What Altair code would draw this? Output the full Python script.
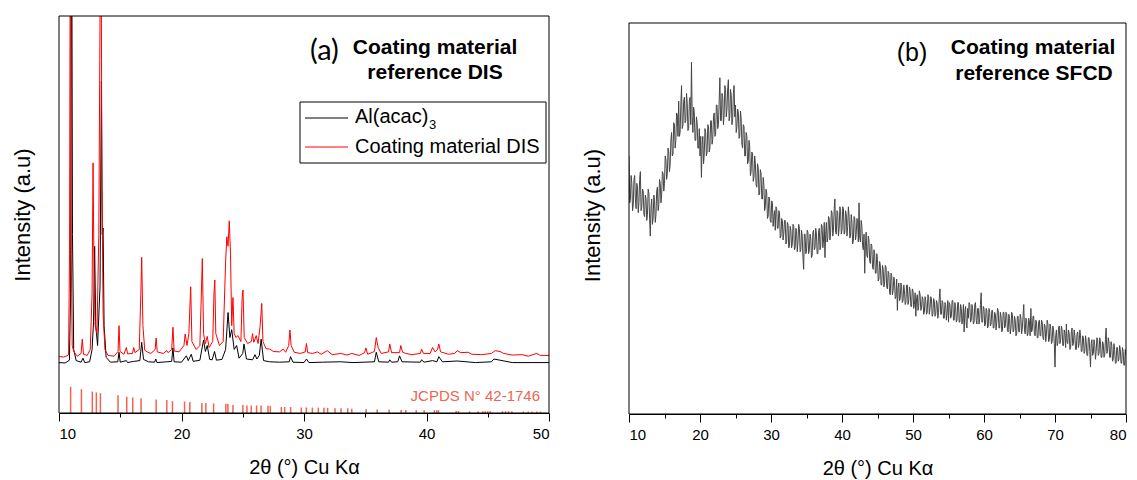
import altair as alt
import pandas as pd

# ---------------- Panel (a) data (2theta, intensity a.u.) ----------------
black_pts = [
    (10.0, 12.7), (10.5, 12.6), (10.85, 13.3), (10.95, 30), (11.03, 140), (11.1, 45),
    (11.2, 16), (11.4, 13.2), (11.8, 12.8), (11.96, 13.8), (12.1, 12.7), (12.5, 12.9),
    (12.7, 16), (12.82, 23), (12.91, 42), (13.0, 22), (13.15, 17), (13.35, 32),
    (13.46, 83.6), (13.53, 45), (13.6, 46.6), (13.68, 22), (13.85, 14), (14.2, 12.8),
    (14.8, 12.9), (14.9, 15.3), (15.0, 12.8), (15.5, 13.2), (15.6, 12.7), (16.1, 13.0),
    (16.6, 13.2), (16.75, 17.8), (16.9, 13.5), (17.3, 12.9), (17.8, 12.8), (17.9, 13.6),
    (18.0, 12.7), (18.8, 12.9), (19.2, 13.0), (19.3, 16.4), (19.4, 12.9), (20.0, 12.8),
    (20.4, 14.4), (20.55, 13.2), (20.8, 14.8), (20.95, 13.0), (21.5, 13.3), (21.8, 18.4),
    (21.95, 15.5), (22.1, 17.0), (22.3, 13.5), (22.5, 13.4), (22.7, 15.5), (22.85, 13.3),
    (23.3, 13.5), (23.6, 16.0), (23.8, 25.3), (23.95, 19.0), (24.1, 21.0), (24.3, 16.0),
    (24.5, 17.0), (24.7, 13.8), (25.0, 15.0), (25.1, 17.4), (25.3, 13.6), (25.8, 13.4),
    (26.0, 14.7), (26.15, 13.6), (26.35, 14.5), (26.5, 18.6), (26.7, 13.2), (27.2, 12.9),
    (28.0, 12.8), (28.8, 12.9), (28.9, 14.2), (29.1, 12.8), (30.0, 12.7), (30.2, 13.6),
    (30.4, 12.7), (31.5, 12.8), (33.0, 12.9), (34.0, 12.7), (35.75, 12.9), (35.9, 15.3),
    (36.1, 12.9), (36.9, 12.8), (37.0, 13.4), (37.15, 12.8), (37.65, 12.9), (37.8, 14.4),
    (38.0, 12.9), (39.5, 12.8), (39.6, 13.4), (39.8, 12.8), (40.5, 13.2), (40.85, 12.9),
    (41.0, 14.2), (41.3, 12.9), (42.5, 13.1), (44.0, 12.7), (45.3, 12.9), (45.5, 13.6),
    (46.0, 13.3), (47.0, 12.7), (50.0, 12.7),
]
black_x = [p[0] for p in black_pts]
black_y = [p[1] for p in black_pts]

red_pts = [
    (10.0, 14.2), (10.4, 14.1), (10.78, 14.6), (10.86, 40), (10.93, 140), (11.0, 40),
    (11.08, 17), (11.2, 15.5), (11.5, 14.3), (11.8, 15), (11.9, 18.6), (12.0, 14.8),
    (12.3, 14.5), (12.55, 16), (12.7, 30), (12.78, 63), (12.86, 35), (12.95, 22),
    (13.1, 20), (13.25, 45), (13.33, 89), (13.42, 140), (13.5, 60), (13.6, 25),
    (13.75, 16), (14.0, 14.5), (14.5, 14.3), (14.82, 15.5), (14.9, 22), (14.98, 15.5),
    (15.3, 14.8), (15.5, 16.5), (15.6, 14.9), (16.0, 15), (16.1, 16.5), (16.2, 15.2),
    (16.55, 16), (16.68, 30), (16.75, 39.2), (16.85, 22), (17.0, 15.8), (17.2, 15.4),
    (17.5, 15.0), (17.85, 16), (17.93, 18.9), (18.02, 15.4), (18.5, 15), (18.8, 15.7),
    (18.9, 15.2), (19.2, 16), (19.3, 21.6), (19.4, 15.6), (19.8, 15.4), (20.2, 17),
    (20.3, 19.9), (20.45, 17), (20.6, 20), (20.75, 31.8), (20.85, 18), (21.2, 16),
    (21.5, 17), (21.62, 30), (21.7, 38.9), (21.8, 20), (21.95, 17.5), (22.1, 19.3),
    (22.25, 16.5), (22.55, 18), (22.65, 30), (22.72, 33.5), (22.8, 20), (23.1, 17),
    (23.4, 18), (23.6, 38), (23.7, 44.4), (23.8, 42), (23.9, 48.4), (24.0, 40),
    (24.1, 22), (24.2, 29.1), (24.3, 20), (24.45, 19), (24.6, 19.5), (24.85, 18),
    (24.95, 29), (25.02, 31), (25.12, 19), (25.4, 17.5), (25.7, 18), (25.8, 20),
    (25.9, 17.8), (26.1, 19.5), (26.25, 17.5), (26.42, 22), (26.55, 27.6), (26.65, 18),
    (26.9, 16.2), (27.2, 16.1), (27.5, 15.5), (28.0, 15.4), (28.3, 16.1), (28.5, 15.3),
    (28.75, 17), (28.85, 20.9), (28.95, 17), (29.2, 15.3), (29.7, 15.0), (30.1, 15.4),
    (30.2, 17.5), (30.3, 15.2), (30.7, 15), (31.1, 15.4), (31.4, 14.8), (31.9, 15.7),
    (32.3, 14.7), (33.0, 15), (33.5, 14.6), (33.9, 15.0), (34.5, 14.5), (34.95, 15.2),
    (35.05, 16.4), (35.2, 14.8), (35.75, 15.5), (35.9, 19), (36.05, 16.5), (36.3, 15),
    (36.9, 15.4), (37.0, 17.4), (37.15, 15.2), (37.8, 15.2), (37.9, 17), (38.05, 15.3),
    (38.3, 15), (38.8, 14.7), (39.5, 15), (39.6, 16.1), (39.75, 15), (40.3, 15),
    (40.5, 16.5), (40.7, 15.4), (40.9, 16), (41.0, 17.4), (41.15, 15.4), (41.8, 14.8),
    (42.3, 15), (42.5, 15.7), (42.8, 15.2), (43.4, 15.3), (43.7, 14.8), (44.5, 14.7),
    (45.3, 15), (45.6, 15.7), (46.0, 15.5), (46.3, 15), (47.0, 14.6), (47.8, 14.7),
    (48.3, 14.3), (49.0, 15), (49.3, 14.5), (50.0, 14.5),
]
red_x = [p[0] for p in red_pts]
red_y = [p[1] for p in red_pts]

# JCPDS N° 42-1746 reference lines (position, relative height)
stick_x = [10.95, 11.83, 12.72, 13.05, 13.38, 14.82, 15.53, 16.02, 16.70, 17.93,
           18.80, 19.26, 20.25, 20.68, 21.66, 21.99, 22.62, 23.62, 23.79, 24.20,
           25.01, 25.34, 25.69, 26.13, 26.49, 27.06, 27.25, 28.15, 28.42, 28.91,
           29.78, 30.19, 30.68, 31.17, 31.63, 31.93, 32.53, 33.02, 33.57, 33.90,
           35.07, 35.97, 36.95, 37.93, 38.31, 39.16, 39.81, 40.65, 40.84, 40.98,
           42.42, 42.61, 43.51, 44.20, 44.6, 44.8, 45.0, 45.2, 46.2, 46.45,
           46.7, 46.97, 47.9, 48.3, 48.6, 49.0, 49.3]
stick_h = [6.6, 6.0, 5.4, 5.2, 5.0, 4.5, 4.1, 3.9, 3.7, 3.4,
           3.3, 3.0, 2.9, 2.8, 2.5, 2.5, 2.4, 2.3, 2.3, 2.0,
           2.0, 1.9, 1.9, 1.9, 1.9, 1.8, 1.8, 1.5, 1.5, 1.5,
           1.4, 1.4, 1.35, 1.35, 1.3, 1.3, 1.2, 1.2, 1.2, 1.1,
           1.0, 0.9, 0.85, 0.75, 0.75, 0.7, 0.7, 0.7, 0.7, 0.7,
           0.5, 0.5, 0.45, 0.45, 0.45, 0.45, 0.45, 0.45, 0.45, 0.45,
           0.45, 0.45, 0.35, 0.35, 0.35, 0.35, 0.35]

# ---------------- Panel (b) data: one row per degree, 0.1 deg steps ----------------
b_start = 10.0
b_step = 0.1
b_rows = [
    [66, 54, 55, 61, 59, 52, 53.5, 60, 61, 55],                 # 10
    [52.5, 59, 58, 51.5, 54, 60, 62, 52, 53, 57.5],             # 11
    [57, 51, 50.5, 56, 55, 49.5, 51, 57.5, 56.5, 50],           # 12
    [45.5, 53, 55, 48.5, 50, 56, 54.5, 49, 51, 57],             # 13
    [58, 52, 53.5, 60, 59, 54, 56, 62, 61.5, 57],               # 14
    [59, 66, 65, 60, 61.5, 68, 67, 62, 64, 70],                 # 15
    [72, 66, 66.5, 74.5, 74, 68, 70, 77, 76.5, 71],             # 16
    [80, 71, 72, 79, 84, 73, 74, 80, 81, 74.5],                 # 17
    [75, 82, 79.5, 72.5, 73, 80, 81, 74, 90, 76],               # 18
    [72, 78.5, 77, 70, 70, 76, 74.5, 68, 68, 73],               # 19
    [66, 71, 60.5, 69, 71, 64, 66.5, 73, 72, 66],               # 20
    [67, 74, 73.5, 67, 68, 75, 75, 69, 70.5, 76],               # 21
    [77, 71, 71.5, 79, 79, 73, 74, 80, 86, 75],                 # 22
    [75, 82, 81, 74, 76.5, 84, 83, 76, 78, 83.5],               # 23
    [85.5, 75, 76, 83, 81.5, 74, 75.5, 82, 84, 76],             # 24
    [79, 72, 73.5, 78, 77, 70.5, 71, 77.5, 75.5, 69],           # 25
    [68, 74, 73.5, 66, 66, 72, 71, 64, 64.5, 70],               # 26
    [68.5, 61, 62, 67, 66.5, 59.5, 60.5, 66, 64, 58.5],         # 27
    [58, 64, 63, 56, 56.5, 62.5, 61.5, 55, 55, 60.5],           # 28
    [58.5, 52, 53, 57.5, 56.5, 50, 50.5, 55.5, 55, 49.5],       # 29
    [49, 54.5, 54, 48, 50.5, 52, 47, 53, 52.5, 47.5],           # 30
    [47.5, 52, 51.5, 45, 45.5, 50, 49.5, 44.5, 46, 49.5],       # 31
    [49.5, 43.5, 44, 49, 48.5, 42.5, 43, 48, 47, 42.5],         # 32
    [43.5, 48.5, 48, 42, 42.5, 47.5, 47, 41.5, 44, 48.5],       # 33
    [47.5, 41.5, 42, 47, 45.5, 40, 37, 46, 46, 41],             # 34
    [41.5, 47, 46.5, 41, 42, 46, 45, 40, 40.5, 46.5],           # 35
    [47, 42, 42.5, 47.5, 46, 41, 41, 46.5, 47.5, 42],           # 36
    [43, 48.5, 48, 42.5, 44.5, 49, 40, 46, 49, 44],             # 37
    [45, 50.5, 50, 44.5, 46.5, 52, 51.5, 45.5, 47, 52.5],       # 38
    [55, 46.5, 46, 52, 51.5, 45.5, 47.5, 53, 52, 46],           # 39
    [47, 53, 52.5, 46, 46.5, 52, 51, 45.5, 48, 53],             # 40
    [50.5, 45, 45.5, 51, 49, 43.5, 44.5, 50.5, 50, 44.5],       # 41
    [46, 50, 49.5, 44, 54, 45, 44, 49.5, 48, 43],               # 42
    [42, 46, 36, 43, 46.5, 40.5, 40, 45.5, 44.5, 39],           # 43
    [38.5, 43.5, 43, 37.5, 37, 42, 41, 36, 36, 41],             # 44
    [39.5, 34, 34.5, 39, 38, 33, 33, 38, 37, 32.5],             # 45
    [33.5, 38, 37.5, 32.5, 32, 36.5, 36, 31, 30.5, 36],         # 46
    [35.5, 30.5, 31.5, 35, 34, 29.5, 30, 34.5, 26.5, 32],       # 47
    [33.5, 29, 29.5, 33.5, 32.5, 28.5, 29, 33, 31.5, 28],       # 48
    [28.5, 33, 33, 28, 29, 32.5, 31.5, 27.5, 27.5, 32],         # 49
    [31.5, 27, 28, 31, 25, 29.5, 30.5, 26.5, 27.5, 31.5],       # 50
    [30.5, 26.5, 27, 30, 29.5, 25.5, 26, 30, 29, 25.5],         # 51
    [26, 30.5, 30, 25.5, 27, 30, 29.5, 25, 25.5, 29.5],         # 52
    [29, 25, 25.5, 29, 28.5, 24.5, 26, 29.5, 32, 25.5],         # 53
    [25.5, 29, 28.5, 24.5, 24.5, 28.5, 28, 24, 26, 29],         # 54
    [23.5, 28.5, 28, 24.5, 25, 29, 29, 24, 24, 28.5],           # 55
    [27.5, 23.5, 24, 28.5, 28.5, 23.5, 23.5, 28, 27, 23],       # 56
    [24.5, 28, 21, 26, 27.5, 23, 22, 27, 24.5, 28.5],           # 57
    [28, 23.5, 24, 28, 27, 23, 23.5, 28, 28.5, 24],             # 58
    [23, 27, 27, 23, 24.5, 28, 31, 23.5, 23.5, 27.5],           # 59
    [27, 22.5, 23, 27, 26.5, 22, 22.5, 27, 26, 22.5],           # 60
    [23, 26.5, 26.5, 22, 22, 26, 25.5, 21.5, 23.5, 27],         # 61
    [26.5, 22, 22, 26, 25, 21, 21.5, 26, 26, 22],               # 62
    [22.5, 26, 25.5, 21.5, 21, 25.5, 24.5, 20.5, 22, 26],       # 63
    [25.5, 21, 21.5, 25, 24, 20, 20.5, 25, 25, 21],             # 64
    [21, 25.5, 24.5, 20.5, 22, 25, 28, 21.5, 20.5, 24.5],       # 65
    [24, 20, 20.5, 24.5, 23.5, 20, 27, 21, 21.5, 25],           # 66
    [25, 20.5, 20, 24, 23.5, 19.5, 19.5, 23.5, 24, 20],         # 67
    [20, 24, 23.5, 19.5, 19, 23, 22.5, 18.5, 20.5, 24],         # 68
    [23, 18.5, 19, 23, 22, 18, 18.5, 22.5, 21.5, 18],           # 69
    [12, 20, 21.5, 17.5, 18, 22, 22.5, 18, 19, 22.5],           # 70
    [21.5, 17.5, 17.5, 21.5, 20.5, 17, 23, 18.5, 18, 21.5],     # 71
    [20.5, 16.5, 17, 21, 22, 17.5, 18, 21.5, 20, 16.5],         # 72
    [16.5, 20.5, 21, 17, 18, 21.5, 20, 16, 16, 20],             # 73
    [19.5, 15.5, 16, 20, 18.5, 15, 15, 19.5, 19.5, 16],         # 74
    [12, 18, 19, 15, 15.5, 19, 17.5, 14, 16, 19.5],             # 75
    [19, 15, 15.5, 19.5, 18.5, 14.5, 14.5, 18.5, 18, 14.5],     # 76
    [15, 19, 22, 15.5, 16, 19.5, 18.5, 14.5, 14.5, 18.5],       # 77
    [17.5, 13.5, 14, 18, 16.5, 13, 13, 17, 17, 13.5],           # 78
    [14, 17.5, 16.5, 13, 13, 17, 16, 12.5, 12.5, 16.5],         # 79
    [15],                                                       # 80
]
b_y = [v for row in b_rows for v in row]
b_x = [round(b_start + b_step * i, 2) for i in range(len(b_y))]

# ---------------- styling constants ----------------
FONT = "Liberation Sans"
RED = "#ff0000"
STICK = "#f06450"
GREY = "#454545"

one = pd.DataFrame({"k": [0]})


def x_axis(last):
    return alt.Axis(
        values=list(range(10, last + 1, 5)),
        labelExpr="datum.value % 10 === 0 ? datum.label : ''",
        tickSize={"condition": {"test": "datum.value % 10 === 0", "value": 8}, "value": 4},
        title="2θ (°) Cu Kα",
        titleFontSize=20,
        grid=False,
        labelPadding=5,
        titlePadding=16,
    )


y_axis = alt.Axis(title="Intensity (a.u)", titleFontSize=22, labels=False, ticks=False,
                  domain=False, grid=False, titlePadding=25)


def txt(text, x, y, size, weight="normal", font=FONT, align="center", color="black"):
    return alt.Chart(one).mark_text(
        text=text, font=font, fontSize=size, fontWeight=weight, align=align,
        baseline="middle", color=color
    ).encode(x=alt.value(x), y=alt.value(y))


def frame(x0, x1, y0, y1):
    return alt.Chart(one).mark_rect(fillOpacity=0, stroke="black", strokeWidth=1).encode(
        x=alt.value(x0), x2=alt.value(x1), y=alt.value(y0), y2=alt.value(y1)
    )


# ---------------- Panel (a) ----------------
WA, HA = 490, 397
xa = alt.Scale(domain=[10, 50], nice=False, zero=False)
ya = alt.Scale(domain=[0, 100], nice=False, zero=False)

df_black = pd.DataFrame({"x": black_x, "y": black_y})
df_red = pd.DataFrame({"x": red_x, "y": red_y})
df_stick = pd.DataFrame({"x": stick_x, "h": stick_h, "z": [0] * len(stick_x)})

black_line = alt.Chart(df_black).mark_line(color="#000000", strokeWidth=1, clip=True).encode(
    x=alt.X("x:Q", scale=xa, axis=x_axis(50)),
    y=alt.Y("y:Q", scale=ya, axis=y_axis),
)
red_line = alt.Chart(df_red).mark_line(color=RED, strokeWidth=1, clip=True).encode(
    x=alt.X("x:Q", scale=xa), y=alt.Y("y:Q", scale=ya)
)
sticks = alt.Chart(df_stick).mark_rule(color=STICK, strokeWidth=1.5).encode(
    x=alt.X("x:Q", scale=xa), y=alt.Y("z:Q", scale=ya), y2="h:Q"
)

leg_box = alt.Chart(one).mark_rect(fill="white", stroke="black", strokeWidth=1).encode(
    x=alt.value(241), x2=alt.value(487), y=alt.value(86), y2=alt.value(147)
)
leg_black = alt.Chart(one).mark_rule(color="#000000", strokeWidth=1).encode(
    x=alt.value(246), x2=alt.value(289), y=alt.value(102)
)
leg_red = alt.Chart(one).mark_rule(color=RED, strokeWidth=1).encode(
    x=alt.value(246), x2=alt.value(289), y=alt.value(131)
)

panel_a = alt.layer(
    black_line, red_line, sticks,
    txt("JCPDS N° 42-1746", 481, 380, 15, align="right", color=STICK),
    leg_box, leg_black, leg_red,
    txt("Al(acac)", 296, 101, 20, align="left"),
    txt("3", 370, 109, 13, align="left"),
    txt("Coating material DIS", 296, 131, 20, align="left"),
    txt("(a)", 251, 35, 29, font="Lato", align="left"),
    txt("Coating material", 376, 32, 21, weight="bold"),
    txt("reference DIS", 376, 57, 21, weight="bold"),
    frame(0, WA, 0, HA),
).properties(width=WA, height=HA)

# ---------------- Panel (b) ----------------
WB, HB = 497, 398
TOPB = 7  # frame of panel (b) starts 7 px lower than panel (a)
xb = alt.Scale(domain=[10, 80], nice=False, zero=False)
yb = alt.Scale(domain=[0, 100 * HB / (HB - TOPB)], nice=False, zero=False)
df_b = pd.DataFrame({"x": b_x, "y": b_y})

b_line = alt.Chart(df_b).mark_line(color=GREY, strokeWidth=1, clip=True).encode(
    x=alt.X("x:Q", scale=xb, axis=x_axis(80)),
    y=alt.Y("y:Q", scale=yb, axis=y_axis),
)

panel_b = alt.layer(
    b_line,
    txt("(b)", 283, 37, 25),
    txt("Coating material", 404, 32, 21, weight="bold"),
    txt("reference SFCD", 405, 58, 21, weight="bold"),
    frame(0, WB, TOPB, HB),
).properties(width=WB, height=HB)

chart = alt.hconcat(panel_a, panel_b, spacing=30).properties(
    padding={"left": 10, "top": 15, "right": 0, "bottom": 0},
    background="white",
).configure_view(
    stroke="transparent"
).configure_axis(
    labelFont=FONT, labelFontSize=15, labelColor="black",
    titleFont=FONT, titleFontWeight="normal", titleColor="black",
    domainColor="black", tickColor="black", domainWidth=1, tickWidth=1,
)

chart.save("out.html", embed_options={"renderer": "svg", "actions": False})
